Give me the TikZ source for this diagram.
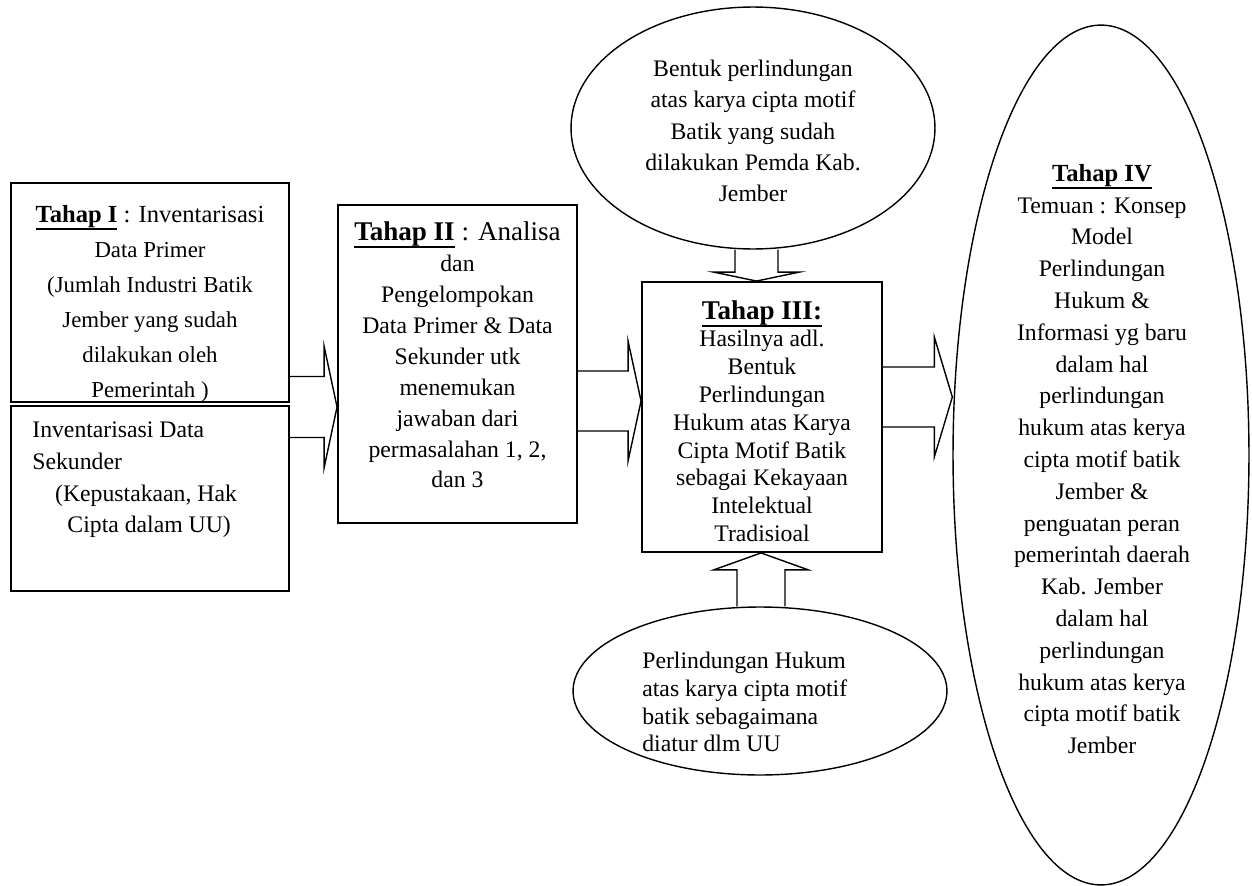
\documentclass[tikz,border=0pt]{standalone}
\usepackage{fontspec}
\setmainfont{Liberation Serif}
\usetikzlibrary{calc,shapes.geometric}

\tikzset{
  kotak/.style={draw,line width=1.1pt,inner sep=0pt},
  bulat/.style={draw,ellipse,line width=0.8pt,inner sep=0pt},
  isi/.style={inner sep=0pt,align=center},
  panah/.style={line width=0.8pt,line join=miter},
}

% bold, underlined heading
\newcommand{\judul}[1]{\setbox0=\hbox{\textbf{#1}}\leavevmode\rlap{\rule[-4.2pt]{\wd0}{1.1pt}}\box0\relax}

% block arrow: tail, tip, shaft half, head half, head length
\newcommand{\panahdatar}[5]{%
  \draw[panah] ($(#1)+(0,{-(#3)})$) -- ($(#2)+({-(#5)},{-(#3)})$) -- ($(#2)+({-(#5)},{-(#4)})$)
    -- (#2) -- ($(#2)+({-(#5)},#4)$) -- ($(#2)+({-(#5)},#3)$) -- ($(#1)+(0,#3)$);}
\newcommand{\panahtegak}[5]{%
  \draw[panah] ($(#1)+({-(#3)},0)$) -- ($(#2)+({-(#3)},{-(#5)})$) -- ($(#2)+({-(#4)},{-(#5)})$)
    -- (#2) -- ($(#2)+(#4,{-(#5)})$) -- ($(#2)+(#3,{-(#5)})$) -- ($(#1)+(#3,0)$);}

\begin{document}
\begin{tikzpicture}[x=0.02cm,y=-0.02cm]
\useasboundingbox (0,0) rectangle (1252,886);
% shapes
\node[kotak,line width=1.4pt,minimum width=5.56cm,minimum height=4.38cm] (tahapsatu) at (150,292.5) {};
\node[kotak,line width=1.4pt,minimum width=5.56cm,minimum height=3.70cm] (sekunder) at (150,498.5) {};
\node[kotak,minimum width=4.78cm,minimum height=6.36cm] (tahapdua) at (457.5,364) {};
\node[kotak,minimum width=4.80cm,minimum height=5.40cm] (tahaptiga) at (762,417) {};
\node[bulat,minimum width=7.28cm,minimum height=4.84cm] (bentuk) at (753,128) {};
\node[bulat,minimum width=7.48cm,minimum height=3.36cm] (uu) at (760,691) {};
\node[bulat,minimum width=5.92cm,minimum height=17.2cm] (tahapempat) at (1101,455) {};
% texts
\node[isi,font=\fontsize{13}{19.9}\selectfont] (tekssatu) at (150,304) {%
{\fontsize{14}{19.9}\selectfont\judul{Tahap I} : Inventarisasi}\\Data Primer\\(Jumlah Industri Batik\\
Jember yang sudah\\dilakukan oleh\\Pemerintah )};
\node[isi,align=left,anchor=west,font=\fontsize{13.5}{18}\selectfont] (tekssekunder) at (32,480) {%
Inventarisasi Data\\Sekunder\\\hspace*{13pt}(Kepustakaan, Hak\\\hspace*{20pt}Cipta dalam UU)};
\node[isi,font=\fontsize{13.5}{17.6}\selectfont] (teksdua) at (457.5,355) {%
{\fontsize{15.4}{17.6}\selectfont\judul{Tahap II} : Analisa}\\dan\\Pengelompokan\\Data Primer \& Data\\Sekunder utk\\
menemukan\\jawaban dari\\permasalahan 1, 2,\\dan 3};
\node[isi,font=\fontsize{13.5}{15.8}\selectfont] (tekstiga) at (762,421) {%
{\fontsize{15.4}{15.8}\selectfont\judul{Tahap III:}}\\Hasilnya adl.\\Bentuk\\Perlindungan\\Hukum atas Karya\\
Cipta Motif Batik\\sebagai Kekayaan\\Intelektual\\Tradisioal};
\node[isi,font=\fontsize{13.5}{17.8}\selectfont] (teksbentuk) at (753,131) {%
Bentuk perlindungan\\atas karya cipta motif\\Batik yang sudah\\dilakukan Pemda Kab.\\Jember};
\node[isi,align=left,anchor=west,font=\fontsize{13.5}{15.8}\selectfont] (teksuu) at (642,702) {%
Perlindungan Hukum\\atas karya cipta motif\\batik sebagaimana\\diatur dlm UU};
\node[isi,font=\fontsize{13.5}{18.1}\selectfont] (teksempat) at (1102,459) {%
{\fontsize{14}{18.1}\selectfont\judul{Tahap IV}}\\Temuan : Konsep\\Model\\Perlindungan\\Hukum \&\\Informasi yg baru\\
dalam hal\\perlindungan\\hukum atas kerya\\cipta motif batik\\Jember \&\\penguatan peran\\
pemerintah daerah\\Kab. Jember\\dalam hal\\perlindungan\\hukum atas kerya\\cipta motif batik\\Jember};
% arrows
\coordinate (a1) at (tahapsatu.east |- 0,407);
\coordinate (b1) at (tahapdua.west |- 0,407);
\coordinate (a2) at (tahapdua.east |- 0,401);
\coordinate (b2) at (tahaptiga.west |- 0,401);
\coordinate (a3) at (tahaptiga.east |- 0,397);
\coordinate (b3) at (tahapempat.west |- 0,397);
\coordinate (a4) at (756.5,0 |- bentuk.south);
\coordinate (b4) at (756.5,0 |- tahaptiga.north);
\coordinate (a5) at (761,0 |- uu.north);
\coordinate (b5) at (761,0 |- tahaptiga.south);
\panahdatar{a1}{b1}{30.5}{61}{13}
\panahdatar{a2}{b2}{30}{60}{13}
\panahdatar{a3}{b3}{30}{60}{18}
\panahtegak{a4}{b4}{21.5}{43}{9}
\panahtegak{a5}{b5}{24}{47.5}{-17}
\end{tikzpicture}
\end{document}
